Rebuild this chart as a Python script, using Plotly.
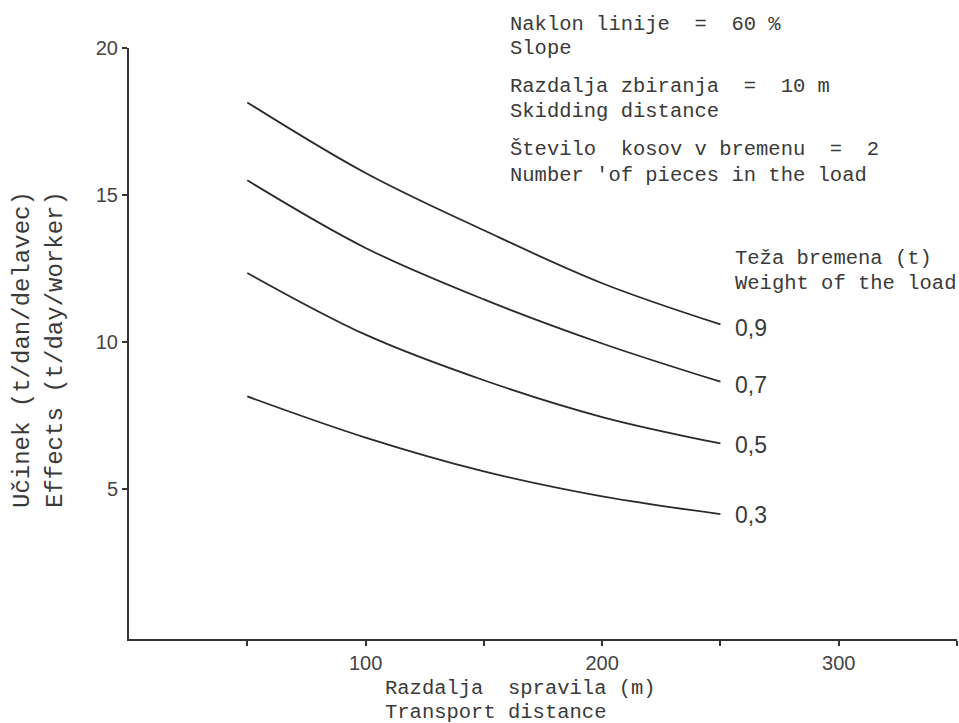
import plotly.graph_objects as go

# ---- data ----
distance = [50, 100, 150, 200, 250]          # Razdalja spravila (m)
load_09 = [18.15, 15.75, 13.8, 12.0, 10.6]   # t/day/worker, load 0,9 t
load_07 = [15.5, 13.2, 11.45, 9.95, 8.65]
load_05 = [12.35, 10.25, 8.7, 7.45, 6.55]
load_03 = [8.15, 6.75, 5.6, 4.75, 4.15]
series_names = ["0,9", "0,7", "0,5", "0,3"]
series_values = [load_09, load_07, load_05, load_03]

x_tickvals = [50, 100, 150, 200, 250, 300, 350]
x_ticktext = ["", "100", "", "200", "", "300", ""]
y_tickvals = [5, 10, 15, 20]
y_ticktext = ["5", "10", "15", "20"]

# ---- layout geometry (pixels) ----
W, H = 959, 723
L, R, T, B = 129, 2, 48, 84
PW, PH = W - L - R, H - T - B


def px(x):
    return (x - L) / PW


def py(y):
    return (H - B - y) / PH


MONO = "Liberation Mono, DejaVu Sans Mono, monospace"
SANS = "Liberation Sans, Arial, sans-serif"
INK = "#2a2a2a"
TXT = "#3a3a3a"

fig = go.Figure()
for name, vals in zip(series_names, series_values):
    fig.add_trace(go.Scatter(
        x=distance, y=vals, mode="lines", name=name,
        line=dict(color=INK, width=1.8, shape="spline", smoothing=1.0),
        showlegend=False, hoverinfo="skip",
    ))

annotations = []


def text(s, x, y, size=20.5, font=MONO, angle=0, xanchor="left", yanchor="middle"):
    annotations.append(dict(
        text=s.replace(" ", "\u00a0"), x=px(x), y=py(y), xref="paper", yref="paper",
        xanchor=xanchor, yanchor=yanchor, showarrow=False, textangle=angle,
        font=dict(family=font, size=size, color=TXT),
    ))


# header block
text("Naklon linije  =  60 %", 508, 24)
text("Slope", 508, 49)
text("Razdalja zbiranja  =  10 m", 508, 86)
text("Skidding distance", 508, 112)
text("Število  kosov v bremenu  =  2", 508, 149)
text("Number 'of pieces in the load", 508, 175)

# curve legend
text("Teža bremena (t)", 733, 258)
text("Weight of the load", 733, 283)
label_y = [328, 385, 445, 515]
for name, yy in zip(series_names, label_y):
    text(name, 733, yy, size=23, font=SANS)

# axis titles
text("Razdalja  spravila (m)", 383, 688)
text("Transport distance", 383, 712)
text("Učinek (t/dan/delavec)", 22, 350, size=24, angle=-90, xanchor="center")
text("Effects (t/day/worker)", 55, 350, size=24, angle=-90, xanchor="center")

fig.update_layout(
    width=W, height=H,
    margin=dict(l=L, r=R, t=T, b=B, pad=0),
    paper_bgcolor="white", plot_bgcolor="white",
    annotations=annotations,
    xaxis=dict(
        range=[0, 350], showgrid=False, zeroline=False,
        showline=True, linecolor="#333", linewidth=2,
        ticks="outside", ticklen=5, tickwidth=1.5, tickcolor="#333",
        tickvals=x_tickvals, ticktext=x_ticktext,
        tickfont=dict(family=SANS, size=20, color="#444"),
    ),
    yaxis=dict(
        range=[-0.1, 20], showgrid=False, zeroline=False,
        showline=True, linecolor="#333", linewidth=2,
        ticks="outside", ticklen=5, tickwidth=1.5, tickcolor="#333",
        tickvals=y_tickvals, ticktext=y_ticktext,
        tickfont=dict(family=SANS, size=20, color="#444"),
    ),
)

fig.write_html("out.html")
